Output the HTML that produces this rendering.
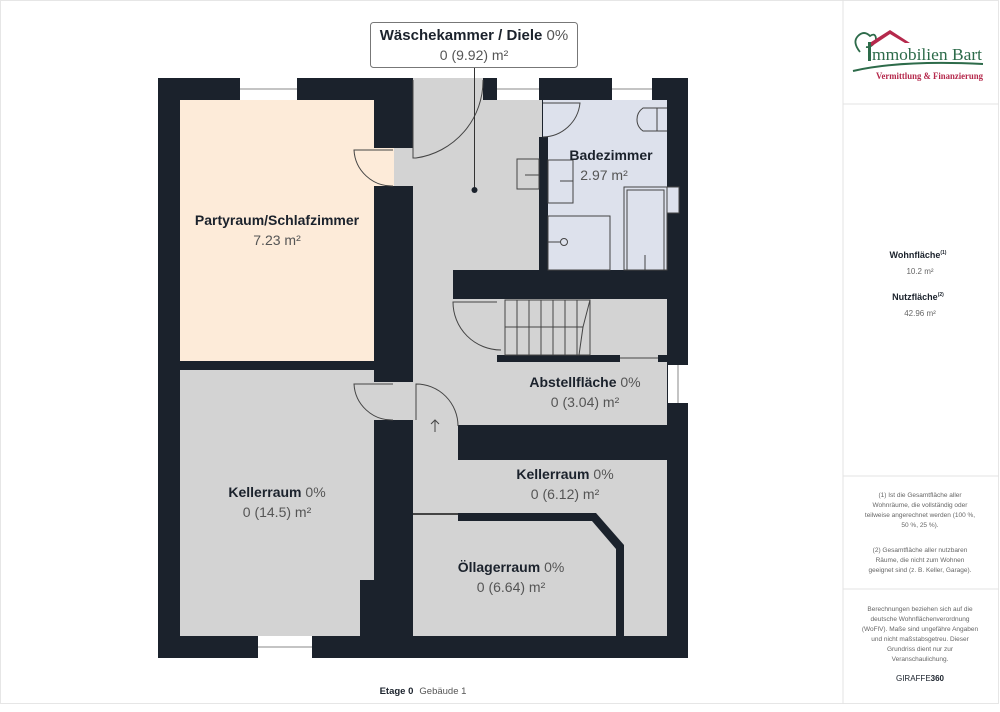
<!DOCTYPE html>
<html><head><meta charset="utf-8"><style>
body{margin:0;background:#fff;width:1000px;height:707px;overflow:hidden;font-family:"Liberation Sans",sans-serif}
</style></head><body>
<svg width="1000" height="707" viewBox="0 0 1000 707" xmlns="http://www.w3.org/2000/svg" font-family="Liberation Sans, sans-serif">
<rect x="0" y="0" width="1000" height="707" fill="#fff"/>
<rect x="0.5" y="0.5" width="998" height="703" fill="none" stroke="#e6e6e6"/>
<line x1="843" y1="0" x2="843" y2="704" stroke="#e3e3e3"/>
<line x1="843" y1="104" x2="999" y2="104" stroke="#e3e3e3"/>
<line x1="843" y1="476" x2="999" y2="476" stroke="#e3e3e3"/>
<line x1="843" y1="589" x2="999" y2="589" stroke="#e3e3e3"/>
<rect x="158" y="78" width="530" height="580" fill="#1b222c"/>
<rect x="180" y="100" width="194" height="261" fill="#fdebd9"/>
<rect x="374" y="148" width="20" height="38" fill="#fdebd9"/>
<g fill="#d3d3d3">
<rect x="413" y="78" width="70" height="30"/>
<rect x="413" y="100" width="129" height="86"/>
<rect x="394" y="148" width="20" height="38"/>
<rect x="413" y="186" width="127" height="84"/>
<rect x="413" y="270" width="40" height="30"/>
<rect x="413" y="299" width="254" height="126"/>
<rect x="374" y="382" width="40" height="38"/>
<rect x="413" y="420" width="45" height="40"/>
<rect x="413" y="460" width="254" height="176"/>
<path d="M180 370 H374 V580 H360 V636 H180 Z"/>
</g>
<rect x="543" y="100" width="124" height="170" fill="#dde1ec"/>
<rect x="539" y="137" width="9" height="133" fill="#1b222c"/>
<rect x="497" y="355" width="123" height="7" fill="#1b222c"/>
<rect x="658" y="355" width="9" height="7" fill="#1b222c"/>
<path d="M458 513 H596 L624 545 V636 H616 V549 L592 521 H458 Z" fill="#1b222c"/>
<g fill="#fff">
<rect x="240" y="78" width="57" height="22"/>
<rect x="497" y="78" width="42" height="22"/>
<rect x="612" y="78" width="40" height="22"/>
<rect x="258" y="636" width="54" height="22"/>
<rect x="668" y="365" width="20" height="38"/>
</g>
<g stroke="#888" stroke-width="1" fill="none">
<line x1="240" y1="89" x2="297" y2="89"/><line x1="497" y1="89" x2="539" y2="89"/><line x1="612" y1="89" x2="652" y2="89"/><line x1="258" y1="647" x2="312" y2="647"/><line x1="678" y1="365" x2="678" y2="403"/>
</g>
<g stroke="#444" stroke-width="1" fill="none">
<path d="M413 80 V158 H416 A78 78 0 0 0 483 80"/>
<path d="M393 150 H354 A38 38 0 0 0 393 186"/>
<path d="M543 103 H580 A38 38 0 0 1 543 137"/>
<path d="M393 384 H354 A38 38 0 0 0 393 420"/>
<path d="M416 420 V384 A42 42 0 0 1 458 426"/>
<path d="M435 432 V420 M431 424 L435 420 L439 424"/>
<path d="M497 302 H453 A48 48 0 0 0 501 350"/>
<line x1="413" y1="514" x2="458" y2="514" stroke-width="2"/>
<line x1="620" y1="358" x2="658" y2="358"/>
<rect x="505" y="300" width="85" height="55"/>
<path d="M517 300V355M529 300V355M541 300V355M553 300V355M565 300V355M577 300V355M505 327H583L590 300M583 327L579 355"/>
<path d="M667 108 H643 A14 14 0 0 0 643 131 H667 M657 108 V131"/>
<rect x="548" y="160" width="25" height="43"/>
<rect x="517" y="159" width="22" height="30"/>
<line x1="525" y1="175" x2="539" y2="175"/><line x1="560" y1="181" x2="573" y2="181"/>
<rect x="548" y="216" width="62" height="54"/>
<circle cx="564" cy="242" r="3.5"/><line x1="548" y1="242" x2="561" y2="242"/>
<rect x="624" y="187" width="43" height="83"/><rect x="627" y="190" width="37" height="80"/>
<line x1="645" y1="255" x2="645" y2="270"/>
<rect x="667" y="187" width="12" height="26" fill="#dde1ec"/>
</g>
<line x1="474.5" y1="67" x2="474.5" y2="190" stroke="#333"/>
<circle cx="474.5" cy="190" r="3" fill="#1b222c"/>
<rect x="370.5" y="22.5" width="207" height="45" rx="3" fill="#fff" stroke="#777"/>
<g text-anchor="middle" fill="#1b222c">
<text x="474" y="40" font-size="15" font-weight="bold">Wäschekammer / Diele <tspan font-weight="normal" fill="#555">0%</tspan></text>
<text x="474" y="60" font-size="14" fill="#555">0 (9.92) m²</text>
<text x="277" y="225" font-size="14" font-weight="bold">Partyraum/Schlafzimmer</text>
<text x="277" y="245" font-size="14" fill="#555">7.23 m²</text>
<text x="611" y="160" font-size="14" font-weight="bold">Badezimmer</text>
<text x="604" y="180" font-size="14" fill="#555">2.97 m²</text>
<text x="585" y="387" font-size="14" font-weight="bold">Abstellfläche <tspan font-weight="normal" fill="#555">0%</tspan></text>
<text x="585" y="407" font-size="14" fill="#555">0 (3.04) m²</text>
<text x="565" y="479" font-size="14" font-weight="bold">Kellerraum <tspan font-weight="normal" fill="#555">0%</tspan></text>
<text x="565" y="499" font-size="14" fill="#555">0 (6.12) m²</text>
<text x="277" y="497" font-size="14" font-weight="bold">Kellerraum <tspan font-weight="normal" fill="#555">0%</tspan></text>
<text x="277" y="517" font-size="14" fill="#555">0 (14.5) m²</text>
<text x="511" y="572" font-size="14" font-weight="bold">Öllagerraum <tspan font-weight="normal" fill="#555">0%</tspan></text>
<text x="511" y="592" font-size="14" fill="#555">0 (6.64) m²</text>
<text x="423" y="694" font-size="9.5"><tspan font-weight="bold">Etage 0</tspan><tspan fill="#555" dx="6">Gebäude 1</tspan></text>
</g>
<path d="M860 52 Q852 42 858 36 Q864 30 870 36 Q876 32 876 40 Q872 48 866 47" fill="none" stroke="#2d6b4a" stroke-width="1.8"/>
<path d="M868 44 L890 30 L910 43 L905 43 L890 34 L872 46 Z" fill="#b5294c"/>
<rect x="868" y="42" width="3" height="19" fill="#2d6b4a"/>
<text x="872" y="60" font-family="Liberation Serif, serif" font-size="17" fill="#2d6b4a" textLength="110" lengthAdjust="spacingAndGlyphs">mmobilien Bart</text>
<path d="M853 71 Q900 60 983 64" fill="none" stroke="#2d6b4a" stroke-width="2"/>
<text x="876" y="79" font-family="Liberation Serif, serif" font-size="9" font-weight="bold" fill="#b5294c" textLength="107" lengthAdjust="spacingAndGlyphs">Vermittlung &amp; Finanzierung</text>
<g text-anchor="middle" font-size="8" fill="#666">
<text x="918" y="258" font-weight="bold" fill="#1b222c" font-size="9">Wohnfläche<tspan font-size="5" dy="-4">(1)</tspan></text>
<text x="920" y="274">10.2 m²</text>
<text x="918" y="300" font-weight="bold" fill="#1b222c" font-size="9">Nutzfläche<tspan font-size="5" dy="-4">(2)</tspan></text>
<text x="920" y="316">42.96 m²</text>
<g font-size="6.5">
<text x="920" y="497">(1) Ist die Gesamtfläche aller</text>
<text x="920" y="507">Wohnräume, die vollständig oder</text>
<text x="920" y="517">teilweise angerechnet werden (100 %,</text>
<text x="920" y="527">50 %, 25 %).</text>
<text x="920" y="552">(2) Gesamtfläche aller nutzbaren</text>
<text x="920" y="562">Räume, die nicht zum Wohnen</text>
<text x="920" y="572">geeignet sind (z. B. Keller, Garage).</text>
<text x="920" y="611">Berechnungen beziehen sich auf die</text>
<text x="920" y="621">deutsche Wohnflächenverordnung</text>
<text x="920" y="631">(WoFlV). Maße sind ungefähre Angaben</text>
<text x="920" y="641">und nicht maßstabsgetreu. Dieser</text>
<text x="920" y="651">Grundriss dient nur zur</text>
<text x="920" y="661">Veranschaulichung.</text>
</g>
<text x="920" y="681" font-size="8" fill="#1b222c">GIRAFFE<tspan font-weight="bold">360</tspan></text>
</g>
</svg>
</body></html>
